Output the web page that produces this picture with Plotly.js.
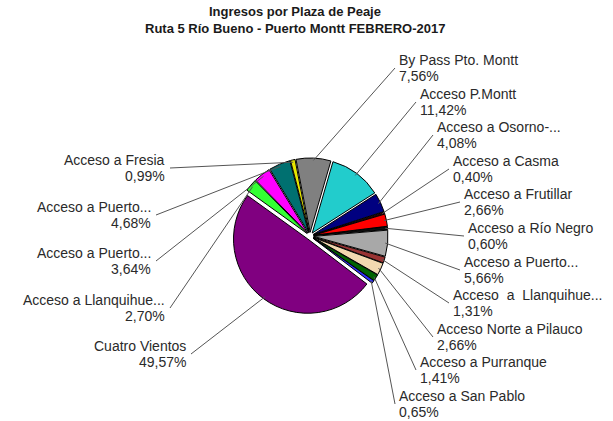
<!DOCTYPE html>
<html><head><meta charset="utf-8">
<script src="https://cdn.plot.ly/plotly-3.0.1.min.js"></script>
<style>html,body{margin:0;padding:0;background:#fff}</style>
</head><body><div id="chart" style="width:613px;height:421px"></div>
<script>
// ---- data ----
const names = [
  "By Pass Pto. Montt", "Acceso P.Montt", "Acceso a Osorno-...", "Acceso a Casma",
  "Acceso a Frutillar", "Acceso a Río Negro", "Acceso a Puerto...", "Acceso\u00a0\u00a0a\u00a0\u00a0Llanquihue...",
  "Acceso Norte a Pilauco", "Acceso a Purranque", "Acceso a San Pablo", "Cuatro Vientos",
  "Acceso a Llanquihue...", "Acceso a Puerto...", "Acceso a Puerto...", "Acceso a Fresia"
];
const values = [7.56, 11.42, 4.08, 0.40, 2.66, 0.60, 5.66, 1.31, 2.66, 1.41, 0.65, 49.57, 2.70, 3.64, 4.68, 0.99];
const colors = ["#808080", "#22CCCC", "#000080", "#3a0000", "#FF0000", "#111111", "#A8A8A8", "#993333",
  "#F2D8B0", "#006400", "#2F2FFF", "#800080", "#33FF33", "#FF00FF", "#007070", "#E6E600"];
const titleLines = ["Ingresos por Plaza de Peaje", "Ruta 5 Río Bueno - Puerto Montt FEBRERO-2017"];

// ---- layout (pixel positions of label blocks) ----
const W = 613, H = 421;
const labelPos = [
  [397, 60, "R"], [418, 94, "R"], [435, 127, "R"], [451, 161, "R"], [462, 194, "R"], [466, 228, "R"],
  [462, 262, "R"], [451, 295, "R"], [435, 329, "R"], [418, 362, "R"], [397, 396, "R"],
  [188, 346, "L"], [167, 300, "L"], [153, 253, "L"], [153, 207, "L"], [167, 160, "L"]
];
const cx = 310, cy = 236, D = 156, pull = 0.05, rotation = -11;
const lineGap = 16;
const fontFam = "Liberation Sans, Arial, sans-serif";

const total = values.reduce((a, b) => a + b, 0);
const rOuter = D / 2; // radius of pulled slice edge
let cum = 0;
const annotations = [], shapes = [];
titleLines.forEach((t, k) => {
  annotations.push({
    x: 295 / W, y: 1 - (12 + 16 * k) / H, xref: "paper", yref: "paper",
    text: "<b>" + t + "</b>", xanchor: "center", yanchor: "middle", showarrow: false,
    font: {family: fontFam, size: 13, color: "#1a1a1a"}
  });
});
values.forEach((v, i) => {
  const mid = rotation + (cum + v / 2) / total * 360;
  cum += v;
  const th = mid * Math.PI / 180;
  const tx = cx + rOuter * 0.97 * Math.sin(th);
  const ty = cy - rOuter * 0.97 * Math.cos(th);
  const [lx, ly, side] = labelPos[i];
  const anchor = side === "R" ? "left" : "right";
  annotations.push({
    x: lx / W, y: 1 - ly / H, xref: "paper", yref: "paper", text: names[i],
    xanchor: anchor, yanchor: "middle", showarrow: false,
    font: {family: fontFam, size: 14, color: "#2a2a2a"}
  });
  annotations.push({
    x: lx / W, y: 1 - (ly + lineGap) / H, xref: "paper", yref: "paper",
    text: v.toFixed(2).replace(".", ",") + "%",
    xanchor: anchor, yanchor: "middle", showarrow: false,
    font: {family: fontFam, size: 14, color: "#2a2a2a"}
  });
  const sx = side === "R" ? lx - 2 : lx + 3;
  const sy = ly + lineGap / 2;
  shapes.push({
    type: "line", xref: "paper", yref: "paper",
    x0: sx / W, y0: 1 - sy / H, x1: tx / W, y1: 1 - ty / H,
    line: {color: "#555555", width: 1}
  });
});

const trace = {
  type: "pie",
  labels: names.map((n, i) => n + " " + i),
  values: values,
  sort: false,
  direction: "clockwise",
  rotation: rotation,
  pull: values.map(() => pull),
  textinfo: "none",
  hoverinfo: "label+percent",
  marker: {colors: colors, line: {color: "#000000", width: 1}},
  domain: {
    x: [(cx - D / 2) / W, (cx + D / 2) / W],
    y: [1 - (cy + D / 2) / H, 1 - (cy - D / 2) / H]
  }
};

const layout = {
  width: W, height: H,
  margin: {l: 0, r: 0, t: 0, b: 0},
  paper_bgcolor: "#ffffff",
  showlegend: false,
  annotations: annotations,
  shapes: shapes
};

Plotly.newPlot("chart", [trace], layout, {displayModeBar: false, staticPlot: true});
</script>
</body></html>
